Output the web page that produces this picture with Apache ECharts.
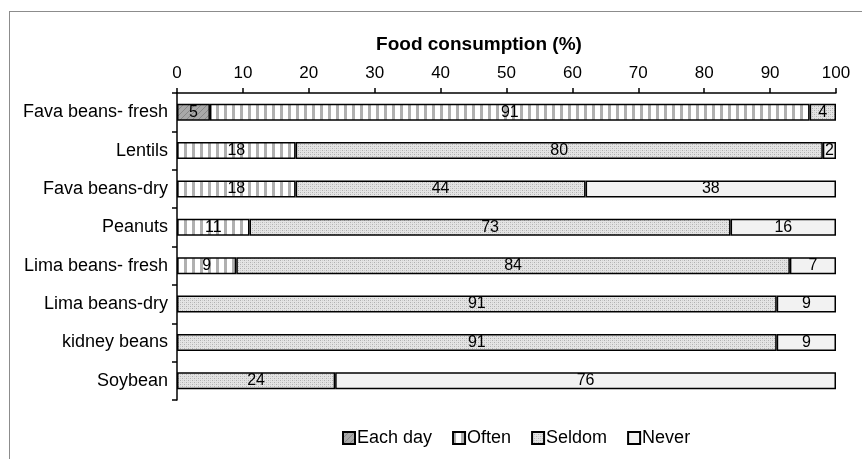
<!DOCTYPE html>
<html>
<head>
<meta charset="utf-8">
<script src="https://cdn.jsdelivr.net/npm/echarts@6/dist/echarts.min.js"></script>
<style>
  html, body { margin: 0; padding: 0; background: #fff; }
  #frame { position: absolute; left: 9px; top: 11px; width: 900px; height: 500px; border: 1px solid #8c8c8c; box-sizing: border-box; }
  #chart { position: absolute; left: 0; top: 0; width: 862px; height: 459px; }
</style>
</head>
<body>
<div id="frame"></div>
<div id="chart"></div>
<script>
// Foods, top to bottom
const foods = ['Fava beans- fresh', 'Lentils', 'Fava beans-dry', 'Peanuts', 'Lima beans- fresh', 'Lima beans-dry', 'kidney beans', 'Soybean'];
// Share of respondents (%) per consumption frequency
const eachDay = [5, null, null, null, null, null, null, null];
const often   = [91, 18, 18, 11, 9, null, null, null];
const seldom  = [4, 80, 44, 73, 84, 91, 91, 24];
const never   = [null, 2, 38, 16, 7, 9, 9, 76];
const xTicks  = { min: 0, max: 100, step: 10 };

// Small tiled fills for the bar textures
function tile(w, h, draw) {
  const c = document.createElement('canvas');
  c.width = w; c.height = h;
  draw(c.getContext('2d'));
  return { image: c, repeat: 'repeat' };
}
const hatchFill = tile(6, 6, g => {
  g.fillStyle = '#a8a8a8'; g.fillRect(0, 0, 6, 6);
  g.strokeStyle = '#878787'; g.lineWidth = 1;
  g.beginPath(); g.moveTo(0, 6); g.lineTo(6, 0); g.stroke();
  g.beginPath(); g.moveTo(-3, 3); g.lineTo(3, -3); g.stroke();
  g.beginPath(); g.moveTo(3, 9); g.lineTo(9, 3); g.stroke();
});
const stripeFill = tile(8, 4, g => {
  g.fillStyle = '#ffffff'; g.fillRect(0, 0, 8, 4);
  g.fillStyle = '#b0b0b0'; g.fillRect(0, 0, 3, 4);
});
const dotFill = tile(4, 4, g => {
  g.fillStyle = '#e4e4e4'; g.fillRect(0, 0, 4, 4);
  g.fillStyle = '#b0b0b0';
  g.fillRect(0, 0, 1, 1); g.fillRect(2, 2, 1, 1);
  g.fillStyle = '#cdcdcd';
  g.fillRect(2, 0, 1, 1); g.fillRect(0, 2, 1, 1);
});
const plainFill = '#f2f2f2';

const font = 'Liberation Sans, Arial, sans-serif';

function series(name, data, fill) {
  return {
    name, type: 'bar', stack: 'total', data,
    barWidth: 17,
    itemStyle: { color: fill, borderColor: '#000', borderWidth: 1.5 },
    label: {
      show: true, position: 'inside', color: '#000',
      fontFamily: font, fontSize: 16,
      formatter: p => (p.value == null ? '' : p.value)
    },
    emphasis: { disabled: true }
  };
}

const chart = echarts.init(document.getElementById('chart'), null, { renderer: 'canvas' });
chart.setOption({
  animation: false,
  backgroundColor: 'transparent',
  textStyle: { fontFamily: font },
  title: {
    text: 'Food consumption (%)',
    left: 479, top: 35, padding: 0, textAlign: 'center',
    textStyle: { fontFamily: font, fontSize: 19, fontWeight: 'bold', color: '#000' }
  },
  grid: { left: 177, right: 26, top: 93, bottom: 59 },
  xAxis: {
    type: 'value', position: 'top',
    min: xTicks.min, max: xTicks.max, interval: xTicks.step,
    axisLine: { show: true, lineStyle: { color: '#000', width: 1.5 } },
    axisTick: { show: true, length: 5, lineStyle: { color: '#000', width: 1.5 } },
    axisLabel: { fontFamily: font, fontSize: 17, color: '#000', margin: 11 },
    splitLine: { show: false }
  },
  yAxis: {
    type: 'category', data: foods, inverse: true,
    axisLine: { show: true, lineStyle: { color: '#000', width: 1.5 } },
    axisTick: { show: true, length: 5, lineStyle: { color: '#000', width: 1.5 } },
    axisLabel: { fontFamily: font, fontSize: 18, color: '#000', margin: 9 }
  },
  legend: {
    top: 424, left: 337,
    itemWidth: 12, itemHeight: 12, itemGap: 20,
    icon: 'rect',
    textStyle: { fontFamily: font, fontSize: 18, color: '#000', padding: [0, 0, 0, -3] },
    data: ['Each day', 'Often', 'Seldom', 'Never']
  },
  series: [
    series('Each day', eachDay, hatchFill),
    series('Often', often, stripeFill),
    series('Seldom', seldom, dotFill),
    series('Never', never, plainFill)
  ]
});
</script>
</body>
</html>
